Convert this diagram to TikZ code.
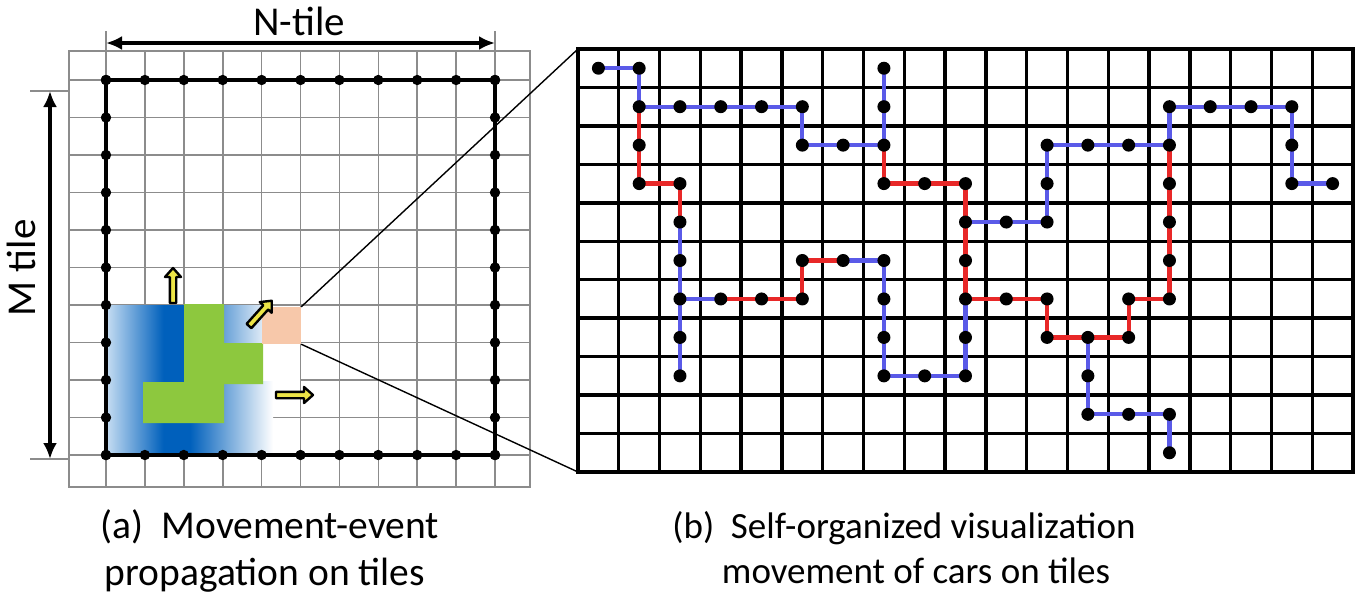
\documentclass[tikz,border=0pt]{standalone}
\usepackage{fontspec}
\setmainfont{Carlito}
\usetikzlibrary{arrows.meta}
\definecolor{gridgray}{RGB}{140,140,140}
\definecolor{lbL}{RGB}{196,220,242}
\definecolor{dbD}{RGB}{0,96,188}
\definecolor{greenG}{RGB}{141,200,62}
\definecolor{peachP}{RGB}{247,200,170}
\definecolor{yelY}{RGB}{236,228,70}
\definecolor{pathblue}{RGB}{90,90,232}
\definecolor{pathred}{RGB}{232,40,40}
\pgfdeclarehorizontalshading{blueshade}{100bp}{color(0bp)=(lbL); color(25bp)=(lbL); color(42bp)=(dbD); color(50bp)=(dbD); color(75bp)=(white); color(100bp)=(white)}
\tikzset{
  grayline/.style={draw=gridgray, line width=1.6pt},
  grayborder/.style={draw=gridgray, line width=2.6pt},
  blackborder/.style={draw=black, line width=3.4pt, line cap=rect},
  rgrid/.style={draw=black, line width=3.4pt, line cap=rect},
  bpath/.style={draw=pathblue, line width=4.2pt, line join=round},
  rpath/.style={draw=pathred, line width=4.2pt, line join=round},
  yarrow/.style={draw=black, fill=yelY, line width=2.4pt, line join=round},
  thinline/.style={draw=black, line width=1.4pt},
  dimarrow/.style={draw=black, line width=3.2pt, {Latex[length=16pt,width=14pt]}-{Latex[length=16pt,width=14pt]}},
  lbl/.style={font=\fontsize{41}{48}\selectfont, inner sep=0pt},
  capa/.style={font=\fontsize{39.5}{47}\selectfont, inner sep=0pt, anchor=base},
  capb/.style={font=\fontsize{37}{45}\selectfont, inner sep=0pt, anchor=base},
}
\newcommand\yelarrowshape[4]{%
  \begin{scope}[shift={(#1,#2)}, rotate=#3]
    \draw[yarrow] (0,-3.2) -- ({#4-9},-3.2) -- ({#4-9},-8) -- (#4,0) -- ({#4-9},8) -- ({#4-9},3.2) -- (0,3.2) -- cycle;
  \end{scope}}
\begin{document}
\begin{tikzpicture}[x=1pt,y=-1pt]
\useasboundingbox[fill=white] (0,0) rectangle (1364,603);

% ---------- left panel: gray grid ----------
\foreach \i in {0,...,10} \draw[grayline] ({106+38.9*\i},51) -- ({106+38.9*\i},487);
\foreach \j in {0,...,10} \draw[grayline] (69,{80+37.5*\j}) -- (530,{80+37.5*\j});
\draw[grayborder] (69,51) rectangle (530,487);

% blue propagation region
\fill[shading=blueshade] (107,305) rectangle (273,455);
\fill[white] (262,343) rectangle (300,381);
% green cells
\fill[greenG] (184,304) -- (224,304) -- (224,343) -- (263,343) -- (263,384) -- (224,384) -- (224,423) -- (143,423) -- (143,382) -- (184,382) -- cycle;
% peach tile
\node[fill=peachP, minimum width=39pt, minimum height=37pt, inner sep=0pt] (pe) at (281.5,325.5) {};

% black tile border with dots
\draw[blackborder] (106,80) rectangle (495,455);
\foreach \i in {0,...,10} {
  \fill ({106+38.9*\i},80) circle (5.2pt);
  \fill ({106+38.9*\i},455) circle (5.2pt);
  \fill (106,{80+37.5*\i}) circle (5.2pt);
  \fill (495,{80+37.5*\i}) circle (5.2pt);
}

% yellow arrows
\yelarrowshape{173}{303}{90}{35}
\yelarrowshape{249}{326}{48}{34}
\yelarrowshape{276}{395}{0}{37}

% dimension arrows
\coordinate (nl) at (106,43);
\coordinate (nr) at (495,43);
\draw[grayline] (106,31) -- (106,51);
\draw[grayline] (495,31) -- (495,51);
\draw[dimarrow] (nl) -- (nr);
\node[lbl, anchor=base] (ntile) at (299,35) {N-tile};

\coordinate (mt) at (50,91);
\coordinate (mb) at (50,459);
\draw[grayline] (30,91) -- (69,91);
\draw[grayline] (30,459) -- (69,459);
\draw[dimarrow] (mt) -- (mb);
\node[lbl, anchor=base, rotate=90] (mtile) at (35,268) {M tile};

% ---------- right panel ----------
\foreach \c in {0,...,18} \foreach \r in {0,...,10}
  \coordinate (c-\c-\r) at ({578+40.789*(\c+0.5)},{49+38.4545*(\r+0.5)});
\coordinate (rtl) at (578,49);
\coordinate (rbl) at (578,472);

\draw[thinline] (pe.north east) -- (rtl);
\draw[thinline] (pe.south east) -- (rbl);

\fill[white] (578,49) rectangle (1353,472);
\foreach \i in {0,...,19} \draw[rgrid] ({578+40.789*\i},49) -- ({578+40.789*\i},472);
\foreach \j in {0,...,11} \draw[rgrid] (578,{49+38.4545*\j}) -- (1353,{49+38.4545*\j});

% blue paths
\draw[bpath] (c-0-0) -- (c-1-0) -- (c-1-1) -- (c-5-1) -- (c-5-2) -- (c-7-2);
\draw[bpath] (c-7-0) -- (c-7-2);
\draw[bpath] (c-2-4) -- (c-2-8);
\draw[bpath] (c-2-6) -- (c-3-6);
\draw[bpath] (c-6-5) -- (c-7-5) -- (c-7-8) -- (c-9-8);
\draw[bpath] (c-9-6) -- (c-9-8);
\draw[bpath] (c-9-4) -- (c-11-4) -- (c-11-2) -- (c-14-2) -- (c-14-1) -- (c-17-1) -- (c-17-3) -- (c-18-3);
\draw[bpath] (c-12-7) -- (c-12-9) -- (c-14-9) -- (c-14-10);
% red paths
\draw[rpath] (c-1-1) -- (c-1-3) -- (c-2-3) -- (c-2-4);
\draw[rpath] (c-3-6) -- (c-5-6) -- (c-5-5) -- (c-6-5);
\draw[rpath] (c-7-2) -- (c-7-3) -- (c-9-3) -- (c-9-6);
\draw[rpath] (c-9-6) -- (c-11-6) -- (c-11-7) -- (c-13-7) -- (c-13-6) -- (c-14-6) -- (c-14-2);

% cars (dots)
\foreach \p in {0-0,1-0,7-0,
  1-1,2-1,3-1,4-1,5-1,7-1,14-1,15-1,16-1,17-1,
  1-2,5-2,6-2,7-2,11-2,12-2,13-2,14-2,17-2,
  1-3,2-3,7-3,8-3,9-3,11-3,14-3,17-3,18-3,
  2-4,9-4,10-4,11-4,14-4,
  2-5,5-5,6-5,7-5,9-5,14-5,
  2-6,3-6,4-6,5-6,7-6,9-6,10-6,11-6,13-6,14-6,
  2-7,7-7,9-7,11-7,12-7,13-7,
  2-8,7-8,8-8,9-8,12-8,
  12-9,13-9,14-9,
  14-10}
  \fill (c-\p) circle (6.5pt);

% ---------- captions ----------
\node[capa] (ca1) at (270,538) {(a)\ \ Movement-event};
\node[capa] (ca2) at (265,585) {propagation on tiles};
\node[capb] (cb1) at (904,538) {(b)\ \ Self-organized visualization};
\node[capb] (cb2) at (916,583) {movement of cars on tiles};
\end{tikzpicture}
\end{document}
